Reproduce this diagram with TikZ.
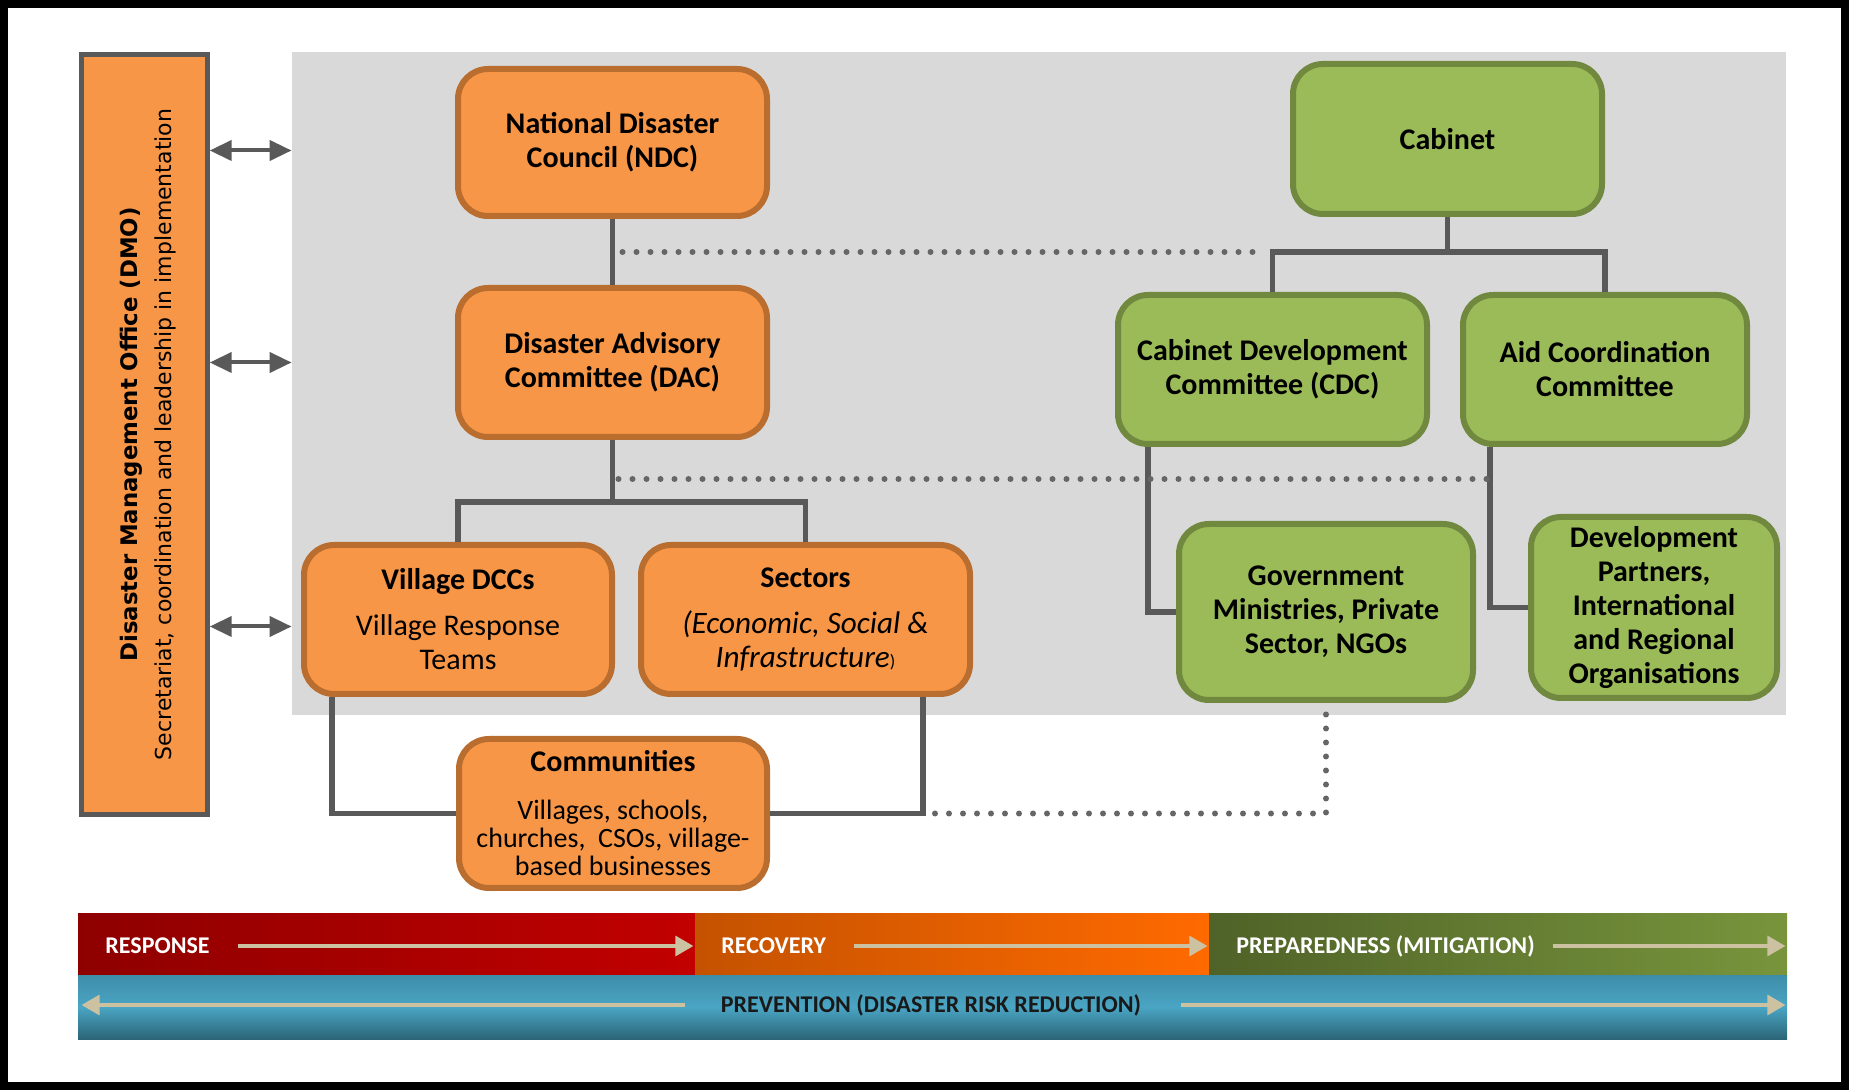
\documentclass[tikz,border=0pt]{standalone}
\usepackage{fontspec}
\setmainfont{Carlito}
\newfontfamily\dmofont{DejaVu Sans}
\usetikzlibrary{arrows.meta}

\definecolor{orangefill}{HTML}{F79646}
\definecolor{orangeline}{HTML}{B96D2E}
\definecolor{greenfill}{HTML}{9BBB59}
\definecolor{greenline}{HTML}{71893F}
\definecolor{linkgray}{HTML}{595959}
\definecolor{dotgray}{HTML}{666666}
\definecolor{panelgray}{HTML}{D9D9D9}
\definecolor{bandarrowcol}{HTML}{CCC1A0}
\definecolor{respdark}{HTML}{8E0000}
\definecolor{resplight}{HTML}{C20000}
\definecolor{recdark}{HTML}{C45200}
\definecolor{reclight}{HTML}{FF6A00}
\definecolor{prepdark}{HTML}{4F6228}
\definecolor{preplight}{HTML}{78953C}
\definecolor{prevtop}{HTML}{3E8DA8}
\definecolor{prevmid}{HTML}{4AA5C4}
\definecolor{prevbot}{HTML}{2B6577}

\tikzset{
  orgbox/.style={rounded corners=15pt, line width=3pt, align=center, inner sep=2pt,
    font=\bfseries\fontsize{15}{17}\selectfont},
  obox/.style={orgbox, draw=orangeline, fill=orangefill},
  gbox/.style={orgbox, draw=greenline, fill=greenfill},
  link/.style={draw=linkgray, line width=2.9pt},
  dotline/.style={draw=dotgray, line width=3pt, line cap=round, dash pattern=on 0pt off 7pt},
  dmoarrow/.style={draw=linkgray, line width=2pt,
    {Triangle[length=11pt,width=10pt]}-{Triangle[length=11pt,width=10pt]}},
  bandcell/.style={inner sep=0pt, minimum height=30.5pt},
  bandtext/.style={font=\bfseries\fontsize{12}{14}\selectfont, text=white, inner sep=0pt, anchor=west},
  bandarrow/.style={draw=bandarrowcol, line width=1.6pt, -{Triangle[length=9pt,width=10pt]}},
}

\begin{document}
\begin{tikzpicture}[x=0.5pt, y=-0.5pt]
  \useasboundingbox (0,0) rectangle (1849,1090);
  % marco exterior
  \draw[line width=4pt] (4,4) rectangle (1845,1086);

  % fondo gris
  \node[fill=panelgray, inner sep=0pt, minimum width=747pt, minimum height=331.5pt] (panel) at (1039,383.5) {};

  % oficina DMO a la izquierda
  \node[draw=linkgray, fill=orangefill, line width=2.2pt, inner sep=0pt,
    minimum width=63pt, minimum height=380pt] (dmo) at (144.5,434.5) {};
  \node[rotate=90, align=center, font=\dmofont\fontsize{11}{17}\selectfont] (dmotext) at ([xshift=2pt]dmo.center)
    {{\bfseries\fontsize{11.4}{17}\selectfont Disaster Management Office (DMO)}\\
     Secretariat, coordination and leadership in implementation};

  % lado naranja
  \node[obox, minimum width=154.5pt, minimum height=73.5pt] (ndc) at (612.5,142.5) {National Disaster\\Council (NDC)};
  \node[obox, minimum width=154.5pt, minimum height=74.5pt] (dac) at (612.5,362.5) {Disaster Advisory\\Committee (DAC)};
  \node[obox, minimum width=154pt, minimum height=74.5pt] (village) at (458,619.5)
    {Village DCCs\\[6pt]{\mdseries Village Response}\\{\mdseries Teams}};
  \node[obox, minimum width=164.5pt, minimum height=74.5pt] (sectors) at (805.5,619.5)
    {Sectors\\[6pt]{\mdseries\itshape\fontsize{15.6}{17}\selectfont (Economic, Social \&}\\
     {\mdseries\itshape\fontsize{15.6}{17}\selectfont Infrastructure}{\mdseries\small )}};
  \node[obox, minimum width=154pt, minimum height=74.5pt, font=\mdseries\fontsize{14}{14}\selectfont] (communities) at (613,813.5)
    {{\bfseries\fontsize{15}{17}\selectfont Communities}\\[10pt]Villages, schools,\\
     churches, \ CSOs, village-\\based businesses};

  % lado verde
  \node[gbox, minimum width=154.5pt, minimum height=75pt] (cabinet) at (1447.5,139) {Cabinet};
  \node[gbox, minimum width=154.5pt, minimum height=74.5pt] (cdc) at (1272.5,369.5) {Cabinet Development\\Committee (CDC)};
  \node[gbox, minimum width=142pt, minimum height=74.5pt] (aid) at (1605,369.5) {Aid Coordination\\Committee};
  \node[gbox, minimum width=147pt, minimum height=88pt] (gov) at (1326,612) {Government\\Ministries, Private\\Sector, NGOs};
  \node[gbox, minimum width=123pt, minimum height=90.5pt] (devp) at (1654,607.5)
    {Development\\Partners,\\International\\and Regional\\Organisations};

  % flechas hacia la DMO
  \coordinate (ndcarrow) at ([yshift=-4pt]ndc.center);
  \coordinate (villagearrow) at ([yshift=-3.5pt]village.center);
  \draw[dmoarrow] (dmo.east |- ndcarrow) -- (panel.west |- ndcarrow);
  \draw[dmoarrow] (dmo.east |- dac) -- (panel.west |- dac);
  \draw[dmoarrow] (dmo.east |- villagearrow) -- (panel.west |- villagearrow);

  % puntos de union
  \coordinate (dacsplit) at (612.5,502);
  \coordinate (cabsplit) at (1447.5,252);
  \coordinate (cdcdrop) at (1148,447);
  \coordinate (aiddrop) at (1490,447);
  \coordinate (villagedrop) at (332,697);
  \coordinate (sectorsdrop) at (923,697);

  % lineas solidas
  \draw[link] (ndc) -- (dac);
  \draw[link] (dac) -- (dacsplit);
  \draw[link] (village) |- (dacsplit) -| (sectors);
  \draw[link] (cabinet) -- (cabsplit);
  \draw[link] (cdc) |- (cabsplit) -| (aid);
  \draw[link] (cdcdrop) |- (gov);
  \draw[link] (aiddrop) |- (devp);
  \draw[link] (villagedrop) |- (communities);
  \draw[link] (sectorsdrop) |- (communities);

  % lineas punteadas
  \draw[dotline] ([xshift=5pt]ndc.south |- cabsplit) -- ([xshift=-3pt]cdc.north |- cabsplit);
  \draw[dotline] ([xshift=3pt]dac.south |- 0,479) -- (aiddrop |- 0,479);
  \draw[dotline] ([xshift=6pt]sectorsdrop |- communities) -| (gov);

  % banda inferior
  \node[bandcell, left color=respdark, right color=resplight, minimum width=308.5pt] (response) at (386.5,944.5) {};
  \node[bandcell, left color=recdark, right color=reclight, minimum width=257pt] (recovery) at (952,944.5) {};
  \node[bandcell, left color=prepdark, right color=preplight, minimum width=289pt] (prepared) at (1498,944.5) {};
  \node[inner sep=0pt, top color=prevtop, bottom color=prevbot, middle color=prevmid,
    minimum width=854.5pt, minimum height=32pt] (prevention) at (932.5,1007) {};

  \node[bandtext] (responsetxt) at (105,946) {RESPONSE};
  \node[bandtext] (recoverytxt) at (721,946) {RECOVERY};
  \node[bandtext] (preparedtxt) at (1236,946) {PREPAREDNESS (MITIGATION)};
  \node[bandtext, anchor=center, text=black!90] (preventiontxt) at (931,1005) {PREVENTION (DISASTER RISK REDUCTION)};

  \draw[bandarrow] ([xshift=14pt]responsetxt.east) -- ([xshift=-1pt]responsetxt -| response.east);
  \draw[bandarrow] ([xshift=14pt]recoverytxt.east) -- ([xshift=-1pt]recoverytxt -| recovery.east);
  \draw[bandarrow] ([xshift=9pt]preparedtxt.east) -- ([xshift=-1pt]preparedtxt -| prepared.east);
  \draw[bandarrow] ([xshift=-18pt]preventiontxt.west) -- ([xshift=2pt]preventiontxt -| prevention.west);
  \draw[bandarrow] ([xshift=20pt]preventiontxt.east) -- ([xshift=-1pt]preventiontxt -| prevention.east);
\end{tikzpicture}
\end{document}
